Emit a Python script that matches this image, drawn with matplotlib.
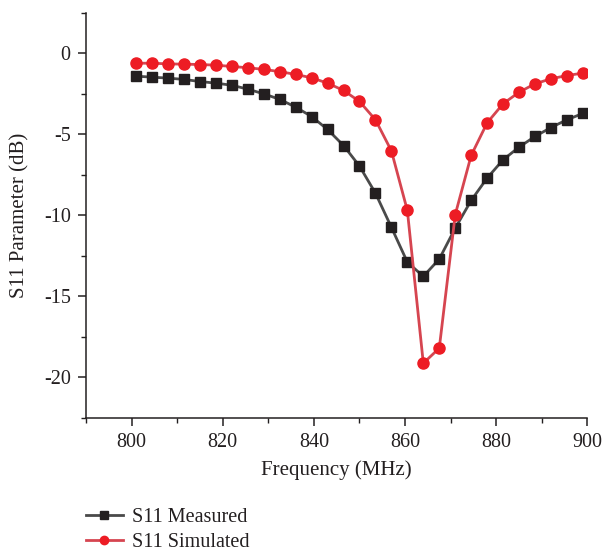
import matplotlib
matplotlib.use("Agg")
import matplotlib.pyplot as plt
import numpy as np
from matplotlib.ticker import MultipleLocator

# Frequency sweep, 801 to 899 MHz in 3.5 MHz steps
freq = np.arange(801, 899.1, 3.5)

s11_measured = [-1.42, -1.48, -1.54, -1.62, -1.75, -1.85, -1.98, -2.22, -2.51, -2.85,
                -3.33, -3.91, -4.71, -5.70, -6.97, -8.64, -10.75, -12.90, -13.78, -12.71,
                -10.80, -9.09, -7.71, -6.58, -5.80, -5.14, -4.59, -4.11, -3.72]
s11_simulated = [-0.62, -0.62, -0.66, -0.68, -0.70, -0.74, -0.82, -0.90, -1.00, -1.14,
                 -1.31, -1.52, -1.85, -2.30, -2.98, -4.11, -6.03, -9.71, -19.14, -18.21,
                 -9.97, -6.31, -4.30, -3.12, -2.41, -1.89, -1.58, -1.38, -1.23]

plt.rcParams['font.family'] = ['Liberation Serif', 'DejaVu Serif']

fig = plt.figure(figsize=(6.05, 5.51), dpi=100)
ax = fig.add_axes([0.142, 0.242, 0.829, 0.735])

l1, = ax.plot(freq, s11_measured, color='#4a4a4a', lw=2.0, marker='s', ms=7.5,
              mfc='#231f20', mec='#231f20', label='S11 Measured')
l2, = ax.plot(freq, s11_simulated, color='#d64550', lw=2.0, marker='o', ms=8,
              mfc='#ed1c24', mec='#ed1c24', label='S11 Simulated')

ax.set_xlim(790, 900)
ax.set_ylim(-22.5, 2.5)
ax.xaxis.set_major_locator(MultipleLocator(20))
ax.xaxis.set_minor_locator(MultipleLocator(10))
ax.yaxis.set_major_locator(MultipleLocator(5))
ax.yaxis.set_minor_locator(MultipleLocator(2.5))

for side in ['top', 'right']:
    ax.spines[side].set_visible(False)
for side in ['left', 'bottom']:
    ax.spines[side].set_linewidth(1.1)
    ax.spines[side].set_color('#231f20')

ax.tick_params(which='major', direction='out', length=6, width=1.1, labelsize=14.5,
               colors='#231f20', pad=5)
ax.tick_params(which='minor', direction='out', length=3.5, width=1.0, colors='#231f20')
ax.set_xticklabels([f'{int(v)}' for v in ax.get_xticks()])
ax.set_yticklabels([f'{int(v)}' if v < 0 else '0' for v in ax.get_yticks()])

ax.set_xlabel('Frequency (MHz)', fontsize=15, color='#231f20', labelpad=6)
ax.set_ylabel('S11 Parameter (dB)', fontsize=15, color='#231f20', labelpad=10)

leg = fig.legend(handles=[l1, l2], loc='upper left', bbox_to_anchor=(0.126, 0.097),
                 frameon=False, fontsize=14.5, handlelength=1.8, handletextpad=0.45,
                 labelspacing=0.33, borderpad=0, markerscale=0.75)
for t in leg.get_texts():
    t.set_color('#231f20')

fig.savefig('out.png', dpi=100)
